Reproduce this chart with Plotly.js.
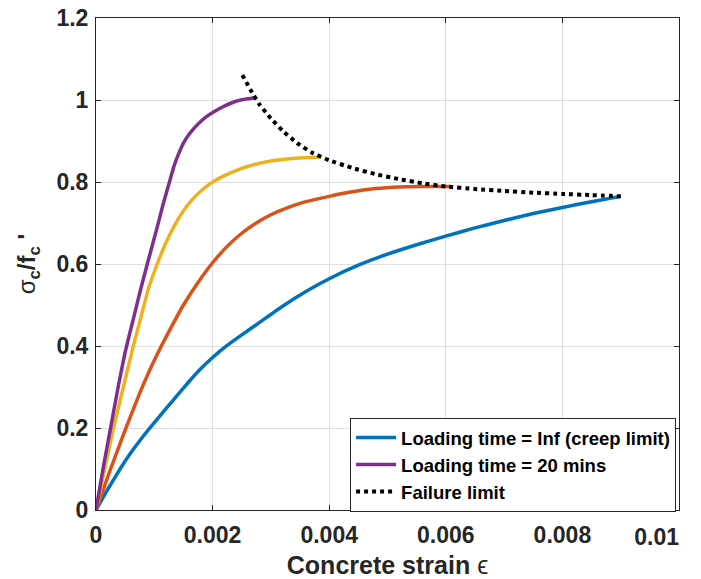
<!DOCTYPE html>
<html>
<head>
<meta charset="utf-8">
<script src="https://cdn.plot.ly/plotly-3.0.1.min.js"></script>
<style>html,body{margin:0;padding:0;background:#fff;}#chart{width:701px;height:579px;}</style>
</head>
<body>
<div id="chart"></div>
<script>
// Creep limit (Loading time = Inf)
const blueX = [0, 0.0002, 0.0004, 0.0006, 0.0008, 0.001, 0.0012, 0.0014, 0.0016, 0.0018, 0.002, 0.0022, 0.0025, 0.0028, 0.0032, 0.0036, 0.004, 0.0045, 0.005, 0.0055, 0.006, 0.0065, 0.007, 0.0075, 0.008, 0.0085, 0.009];
const blueY = [0, 0.05, 0.097, 0.14, 0.178, 0.213, 0.247, 0.281, 0.314, 0.345, 0.372, 0.396, 0.427, 0.457, 0.497, 0.533, 0.564, 0.597, 0.624, 0.647, 0.668, 0.688, 0.706, 0.723, 0.738, 0.752, 0.765];
// Intermediate loading time (orange)
const orangeX = [0, 0.00025, 0.0005, 0.00075, 0.001, 0.00125, 0.0015, 0.00175, 0.002, 0.00225, 0.0025, 0.00275, 0.003, 0.0033, 0.0036, 0.004, 0.0044, 0.0048, 0.0052, 0.0056, 0.00608];
const orangeY = [0, 0.1, 0.195, 0.285, 0.365, 0.435, 0.5, 0.555, 0.603, 0.643, 0.675, 0.7, 0.72, 0.738, 0.752, 0.765, 0.776, 0.784, 0.788, 0.789, 0.789];
// Intermediate loading time (yellow)
const yellowX = [0, 0.00015, 0.0003, 0.00047, 0.00064, 0.00077, 0.0009, 0.00105, 0.0012, 0.00135, 0.0015, 0.00165, 0.0018, 0.00196, 0.00215, 0.0024, 0.0027, 0.003, 0.0034, 0.00385];
const yellowY = [0, 0.1, 0.2, 0.3, 0.4, 0.47, 0.54, 0.6, 0.652, 0.695, 0.73, 0.757, 0.778, 0.796, 0.812, 0.828, 0.842, 0.851, 0.858, 0.861];
// Loading time = 20 mins
const purpleX = [0, 0.00012, 0.00025, 0.00038, 0.0005, 0.00063, 0.00076, 0.00088, 0.00105, 0.00115, 0.00126, 0.00134, 0.00142, 0.0015, 0.0016, 0.0017, 0.0018, 0.0019, 0.00203, 0.00217, 0.0024, 0.0026, 0.00273];
const purpleY = [0, 0.1, 0.2, 0.3, 0.385, 0.46, 0.535, 0.6, 0.69, 0.745, 0.8, 0.84, 0.87, 0.895, 0.917, 0.934, 0.948, 0.96, 0.972, 0.983, 0.997, 1.003, 1.005];
// Failure limit
const failX = [0.00251, 0.00265, 0.0028, 0.003, 0.0032, 0.00345, 0.0037, 0.004, 0.0044, 0.0048, 0.0052, 0.0056, 0.006, 0.0065, 0.007, 0.0075, 0.008, 0.0085, 0.009];
const failY = [1.061, 1.025, 0.99, 0.955, 0.925, 0.895, 0.872, 0.853, 0.834, 0.819, 0.807, 0.797, 0.789, 0.783, 0.778, 0.774, 0.771, 0.768, 0.765];

const xTicks = [0, 0.002, 0.004, 0.006, 0.008];
const xTickText = ['0', '0.002', '0.004', '0.006', '0.008'];
const xEndTick = [0.01];
const xEndTickText = ['0.01'];
const yTicks = [0, 0.2, 0.4, 0.6, 0.8, 1, 1.2];
const yTickText = ['0', '0.2', '0.4', '0.6', '0.8', '1', '1.2'];

const LW = 3.5;
const LS = {shape: 'spline', smoothing: 0.4};
const traces = [
  {x: blueX, y: blueY, mode: 'lines', name: 'Loading time = Inf (creep limit)', line: Object.assign({color: '#0072BD', width: LW}, LS)},
  {x: orangeX, y: orangeY, mode: 'lines', showlegend: false, line: Object.assign({color: '#D95319', width: LW}, LS)},
  {x: yellowX, y: yellowY, mode: 'lines', showlegend: false, line: Object.assign({color: '#EDB120', width: LW}, LS)},
  {x: purpleX, y: purpleY, mode: 'lines', name: 'Loading time = 20 mins', line: Object.assign({color: '#7E2F8E', width: LW}, LS)},
  {x: failX, y: failY, xaxis: 'x2', mode: 'lines', name: 'Failure limit', line: Object.assign({color: '#000000', width: 4, dash: 'dot'}, LS)}
];

const FAM = 'Arial, "Liberation Sans", sans-serif';
const tickFont = {family: FAM, size: 23, color: '#262626', weight: 'bold'};
const layout = {
  width: 701, height: 579,
  margin: {l: 96, r: 22, t: 18, b: 69},
  paper_bgcolor: '#ffffff', plot_bgcolor: '#ffffff',
  showlegend: true,
  legend: {
    x: 0.995, xanchor: 'right', y: -0.004, yanchor: 'bottom',
    bgcolor: '#ffffff', bordercolor: '#262626', borderwidth: 1,
    font: {family: FAM, size: 18.5, color: '#000000', weight: 'bold'},
    tracegroupgap: 0, itemwidth: 40
  },
  xaxis: {
    range: [0, 0.01], tickvals: xTicks, ticktext: xTickText,
    showgrid: true, gridcolor: '#dfdfdf', gridwidth: 1, zeroline: false,
    showline: true, linecolor: '#262626', linewidth: 1, mirror: 'ticks',
    ticks: 'inside', ticklen: 5, tickcolor: '#262626',
    tickfont: tickFont, ticklabelstandoff: 4,
    title: {text: '<b>Concrete strain</b> ϵ', font: {family: FAM, size: 25, color: '#262626'}, standoff: 9}
  },
  xaxis2: {
    overlaying: 'x', anchor: 'y', side: 'bottom',
    range: [0, 0.01], tickvals: xEndTick, ticktext: xEndTickText,
    showgrid: false, zeroline: false, showline: false, ticks: '',
    tickfont: tickFont, ticklabelposition: 'outside left', ticklabelstandoff: 11,
    ticklabeloverflow: 'allow'
  },
  yaxis: {
    range: [0, 1.2], tickvals: yTicks, ticktext: yTickText,
    showgrid: true, gridcolor: '#dfdfdf', gridwidth: 1, zeroline: false,
    showline: true, linecolor: '#262626', linewidth: 1, mirror: 'ticks',
    ticks: 'inside', ticklen: 5, tickcolor: '#262626',
    tickfont: tickFont, ticklabelstandoff: 2,
    title: {text: 'σ<b><sub>c</sub>/f<sub>c</sub> \'</b>', font: {family: FAM, size: 24, color: '#262626'}, standoff: 14}
  }
};

Plotly.newPlot('chart', traces, layout, {displayModeBar: false, staticPlot: true});
</script>
</body>
</html>
